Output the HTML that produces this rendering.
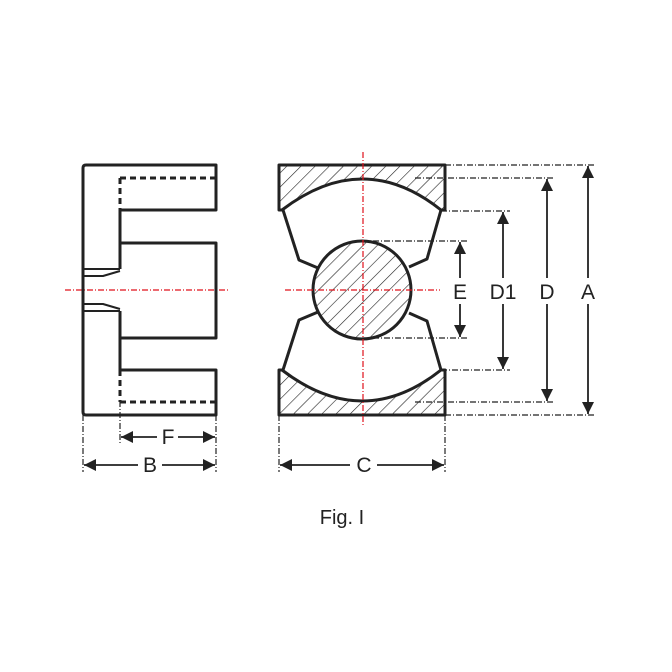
<!DOCTYPE html>
<html><head><style>body{margin:0;background:#fff}svg{display:block}</style></head>
<body>
<svg width="672" height="672" viewBox="0 0 672 672" xmlns="http://www.w3.org/2000/svg">
<defs>
<pattern id="h" width="10" height="10" patternUnits="userSpaceOnUse" patternTransform="rotate(45)">
<line x1="0" y1="0" x2="0" y2="10" stroke="#222" stroke-width="1.2"/>
</pattern>
<marker id="a" viewBox="0 0 10 10" refX="10" refY="5" markerWidth="13" markerHeight="12" markerUnits="userSpaceOnUse" orient="auto-start-reverse"><path d="M0,0 L10,5 L0,10z" fill="#222"/></marker>
</defs>
<g fill="none" stroke="#222" stroke-width="1.2" stroke-dasharray="6,2,1,2">
<line x1="83" y1="415" x2="83" y2="472"/>
<line x1="216" y1="415" x2="216" y2="472"/>
<line x1="120" y1="401" x2="120" y2="444"/>
<line x1="279" y1="415" x2="279" y2="472"/>
<line x1="445" y1="415" x2="445" y2="472"/>
<line x1="445" y1="165" x2="595" y2="165"/>
<line x1="445" y1="415" x2="595" y2="415"/>
<line x1="415" y1="178" x2="553" y2="178"/>
<line x1="415" y1="402" x2="553" y2="402"/>
<line x1="441" y1="211" x2="510" y2="211"/>
<line x1="441" y1="370" x2="510" y2="370"/>
<line x1="362" y1="241" x2="467" y2="241"/>
<line x1="362" y1="338" x2="467" y2="338"/>
</g>
<g stroke="#e0101a" stroke-width="1.2" stroke-dasharray="6,2,1,2">
<line x1="65" y1="290" x2="230" y2="290"/>
</g>
<g fill="none" stroke="#222" stroke-width="3" stroke-linejoin="round">
<path d="M86,165 L216,165 L216,210 L120,210 L120,269 M120,243 L216,243 L216,338 L120,338 M120,311 L120,370 L216,370 L216,415 L86,415 Q83,415 83,412 L83,168 Q83,165 86,165"/>
<path d="M83,269 L120,269" stroke-width="2"/>
<path d="M83,276 L103,276 L120,271" stroke-width="2"/>
<path d="M83,311 L120,311" stroke-width="2"/>
<path d="M83,304 L103,304 L120,309" stroke-width="2"/>
<path d="M120,178 L216,178 M120,178 L120,210 M120,402 L216,402 M120,370 L120,402" stroke-dasharray="6,4"/>
</g>
<g stroke="#222" stroke-width="3" stroke-linejoin="round">
<path d="M279,165 L445,165 L445,210 L441,210 Q363,148 282,210 L279,210 Z" fill="url(#h)"/>
<path d="M279,415 L445,415 L445,370 L441,370 Q363,432 282,370 L279,370 Z" fill="url(#h)"/>
<circle cx="362" cy="290" r="49" fill="url(#h)"/>
<path fill="none" d="M283,210 L299,260 L318,268 M441,210 L427,259 L409,267 M283,370 L299,320 L318,312 M441,370 L427,321 L409,313"/>
</g>
<g stroke="#e0101a" stroke-width="1.2" stroke-dasharray="6,2,1,2"><line x1="363" y1="152" x2="363" y2="425"/><line x1="285" y1="290" x2="440" y2="290"/></g>
<g stroke="#222" stroke-width="1.8" marker-start="url(#a)" marker-end="url(#a)">
<line x1="121" y1="437" x2="157" y2="437" marker-end="none"/>
<line x1="178" y1="437" x2="215" y2="437" marker-start="none"/>
<line x1="84" y1="465" x2="138" y2="465" marker-end="none"/>
<line x1="162" y1="465" x2="215" y2="465" marker-start="none"/>
<line x1="280" y1="465" x2="350" y2="465" marker-end="none"/>
<line x1="377" y1="465" x2="444" y2="465" marker-start="none"/>
<line x1="460" y1="242" x2="460" y2="278" marker-end="none"/>
<line x1="460" y1="304" x2="460" y2="337" marker-start="none"/>
<line x1="503" y1="212" x2="503" y2="278" marker-end="none"/>
<line x1="503" y1="304" x2="503" y2="369" marker-start="none"/>
<line x1="547" y1="179" x2="547" y2="278" marker-end="none"/>
<line x1="547" y1="304" x2="547" y2="401" marker-start="none"/>
<line x1="588" y1="166" x2="588" y2="278" marker-end="none"/>
<line x1="588" y1="304" x2="588" y2="414" marker-start="none"/>
</g>
<g font-family="Liberation Sans, sans-serif" font-size="21" fill="#222" text-anchor="middle">
<text x="168" y="444">F</text>
<text x="150" y="472">B</text>
<text x="364" y="472">C</text>
<text x="460" y="299">E</text>
<text x="503" y="299">D1</text>
<text x="547" y="299">D</text>
<text x="588" y="299">A</text>
<text x="342" y="524" font-size="20">Fig. I</text>
</g>
</svg>
</body></html>
